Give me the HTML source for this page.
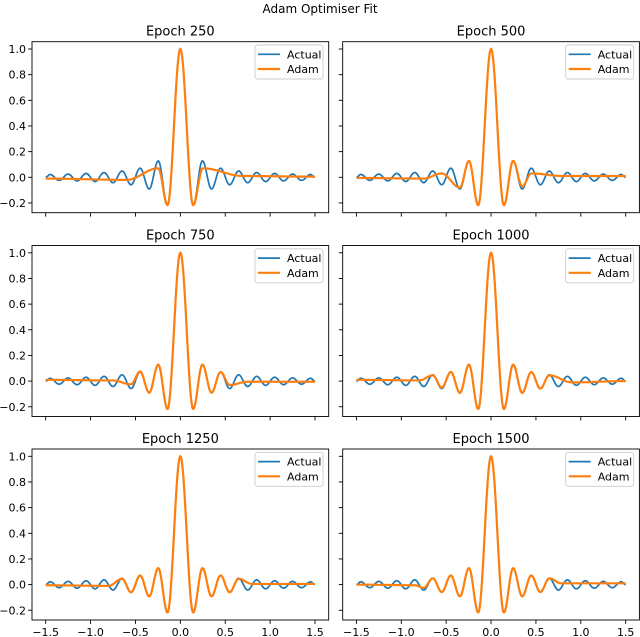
<!DOCTYPE html>
<html><head><meta charset="utf-8"><style>
html,body{margin:0;padding:0;background:#fff}
svg{display:block;font-family:"DejaVu Sans","Liberation Sans",sans-serif}
</style></head><body>
<svg id="fig" width="640" height="637" viewBox="0 0 640 637">
<text x="320" y="13" text-anchor="middle" font-size="12" fill="#000">Adam Optimiser Fit</text>
</svg>
<script>
// Actual curve extrema knots
const actualX = [-1.5,-1.45,-1.35,-1.25,-1.15,-1.05,-0.95,-0.85,-0.75,-0.649,-0.549,-0.448,-0.347,-0.246,-0.143,0,0.143,0.246,0.347,0.448,0.549,0.649,0.75,0.85,0.95,1.05,1.15,1.25,1.35,1.45,1.5];
const actualY = [0,0.022,-0.024,0.025,-0.028,0.030,-0.033,0.037,-0.042,0.049,-0.058,0.071,-0.091,0.128,-0.217,1,-0.217,0.128,-0.091,0.071,-0.058,0.049,-0.042,0.037,-0.033,0.030,-0.028,0.025,-0.024,0.022,0];
// Adam fit knots per epoch
const epochs = [250,500,750,1000,1250,1500];
const adamX250 = [-1.5,-0.6,-0.246,-0.143,0,0.143,0.25,0.7,1.5];
const adamY250 = [-0.01,-0.02,0.07,-0.217,1,-0.217,0.07,0.01,0.005];
const adamX500 = [-1.5,-0.75,-0.55,-0.347,-0.246,-0.143,0,0.143,0.246,0.347,0.45,0.8,1.5];
const adamY500 = [-0.005,-0.01,0.03,-0.08,0.128,-0.217,1,-0.217,0.128,-0.07,0.03,0.01,0.01];
const adamX750 = [-1.5,-0.75,-0.55,-0.448,-0.347,-0.246,-0.143,0,0.143,0.246,0.347,0.448,0.55,0.75,1.5];
const adamY750 = [0.01,0.005,-0.025,0.075,-0.09,0.128,-0.217,1,-0.217,0.128,-0.09,0.071,-0.03,-0.005,-0.005];
const adamX1000 = [-1.5,-0.8,-0.649,-0.549,-0.448,-0.347,-0.246,-0.143,0,0.143,0.246,0.347,0.448,0.549,0.649,0.9,1.5];
const adamY1000 = [0.01,0.005,0.045,-0.05,0.071,-0.091,0.128,-0.217,1,-0.217,0.128,-0.091,0.071,-0.058,0.045,-0.01,0];
const adamX1250 = [-1.5,-0.8,-0.649,-0.549,-0.448,-0.347,-0.246,-0.143,0,0.143,0.246,0.347,0.448,0.549,0.649,0.8,1.5];
const adamY1250 = [-0.005,-0.01,0.045,-0.06,0.071,-0.091,0.128,-0.217,1,-0.217,0.128,-0.091,0.071,-0.06,0.045,0.005,0.005];
const adamX1500 = [-1.5,-0.85,-0.75,-0.649,-0.549,-0.448,-0.347,-0.246,-0.143,0,0.143,0.246,0.347,0.448,0.549,0.649,0.78,1.5];
const adamY1500 = [0,-0.005,-0.025,0.049,-0.058,0.071,-0.091,0.128,-0.217,1,-0.217,0.128,-0.091,0.071,-0.058,0.049,0.01,0.01];
const adamXs = [adamX250,adamX500,adamX750,adamX1000,adamX1250,adamX1500];
const adamYs = [adamY250,adamY500,adamY750,adamY1000,adamY1250,adamY1500];
const xTicks = [-1.5,-1.0,-0.5,0.0,0.5,1.0,1.5];
const xTickLabels = ["\u22121.5","\u22121.0","\u22120.5","0.0","0.5","1.0","1.5"];
const yTicks = [-0.2,0,0.2,0.4,0.6,0.8,1.0];
const yTickLabels = ["\u22120.2","0.0","0.2","0.4","0.6","0.8","1.0"];

const NS = "http://www.w3.org/2000/svg";
const fig = document.getElementById('fig');
function mk(tag, attrs, parent){const e=document.createElementNS(NS,tag);for(const k in attrs)e.setAttribute(k,attrs[k]);(parent||fig).appendChild(e);return e;}
function interp(xs, ys, x){
  for(let i=0;i<xs.length-1;i++){
    if(x>=xs[i]&&x<=xs[i+1]){const t=(x-xs[i])/(xs[i+1]-xs[i]);const s=(1-Math.cos(Math.PI*t))/2;return ys[i]+(ys[i+1]-ys[i])*s;}
  }
  return ys[ys.length-1];
}
const cols=[{l:32,r:328.7},{l:342.7,r:639.4}];
const rows=[{t:41.7,b:212.7},{t:245.5,b:416.5},{t:449,b:620}];
for(let p=0;p<6;p++){
  const c=cols[p%2], rw=rows[Math.floor(p/2)];
  const x0=c.l+13.7, xs=(c.r-c.l-27.4)/3;
  const sx=v=>x0+(v+1.5)*xs;
  const y0=rw.t+135.6, ys=128.3;
  const sy=v=>y0-v*ys;
  const g=mk('g',{});
  
  
  const t=mk('text',{x:(c.l+c.r)/2,y:rw.t-6,'text-anchor':'middle','font-size':13,fill:'#000'},g);
  t.textContent='Epoch '+epochs[p];
  
  
  const clipId='clip'+p;
  const cp=mk('clipPath',{id:clipId},g);mk('rect',{x:c.l,y:rw.t,width:c.r-c.l,height:rw.b-rw.t},cp);
  // ticks
  xTicks.forEach((v,i)=>{
    const tk=mk('line',{x1:sx(v),x2:sx(v),y1:rw.b,y2:rw.b+3.9,stroke:'#000','stroke-width':0.9},g);
    
    
    if(p>=4){const tl=mk('text',{x:sx(v),y:rw.b+16,'text-anchor':'middle','font-size':11,fill:'#000'},g);tl.textContent=xTickLabels[i];
      
      }
  });
  yTicks.forEach((v,i)=>{
    const tk=mk('line',{x1:c.l-3.9,x2:c.l,y1:sy(v),y2:sy(v),stroke:'#000','stroke-width':0.9},g);
    
    
    if(p%2===0){const tl=mk('text',{x:c.l-6,y:sy(v)+4,'text-anchor':'end','font-size':11,fill:'#000'},g);tl.textContent=yTickLabels[i];
      
      }
  });
  // series
  function path(xsA,ysA){let d='';for(let k=0;k<=600;k++){const x=-1.5+3*k/600;const y=interp(xsA,ysA,x);d+=(k?'L':'M')+sx(x).toFixed(2)+','+sy(y).toFixed(2);}return d;}
  const a=mk('path',{d:path(actualX,actualY),fill:'none',stroke:'#1f77b4','stroke-width':1.7,'clip-path':'url(#'+clipId+')'},g);
  
  
  const b=mk('path',{d:path(adamXs[p],adamYs[p]),fill:'none',stroke:'#ff7f0e','stroke-width':2.2,'clip-path':'url(#'+clipId+')'},g);
  
  
  const fr=mk('rect',{x:c.l,y:rw.t,width:c.r-c.l,height:rw.b-rw.t,fill:'none',stroke:'#000','stroke-width':0.9},g);
  
  
  // legend
  const lg=mk('g',{},g);
  
  
  const lx=c.r-73.7, ly=rw.t+3.3;
  mk('rect',{x:lx,y:ly,width:68,height:34,rx:2.5,fill:'#fff','fill-opacity':0.8,stroke:'#ccc','stroke-width':0.9},lg);
  [['Actual','#1f77b4',1.7],['Adam','#ff7f0e',2.2]].forEach((e,i)=>{
    const yy=ly+9.3+i*14.7;
    const le=mk('g',{},lg);
    
    
    mk('line',{x1:lx+3,x2:lx+25,y1:yy,y2:yy,stroke:e[1],'stroke-width':e[2]},le);
    const tt=mk('text',{x:lx+32,y:yy+4,'font-size':11,fill:'#000'},le);tt.textContent=e[0];
  });
}
</script>
</body></html>
